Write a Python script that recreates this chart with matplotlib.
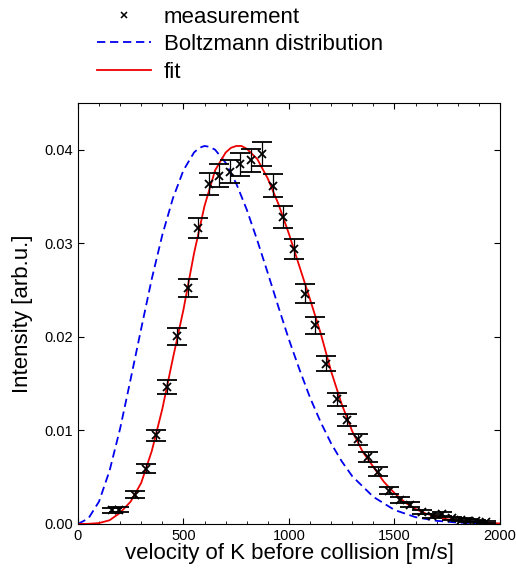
import numpy as np
import matplotlib
matplotlib.use("Agg")
import matplotlib.pyplot as plt
from matplotlib.lines import Line2D
from matplotlib.legend_handler import HandlerLine2D
from matplotlib.ticker import MultipleLocator, FormatStrFormatter

plt.rcParams['font.family'] = ['Liberation Sans', 'DejaVu Sans']

# measured points (velocity, intensity, error)
v_meas = [162, 197, 269, 321, 369, 421, 471, 522, 571, 619, 670, 721, 770, 821,
          873, 924, 972, 1022, 1075, 1125, 1174, 1226, 1275, 1325, 1375, 1424,
          1476, 1527, 1575, 1629, 1678, 1726, 1773, 1813, 1850, 1888, 1932]
i_meas = [0.00145, 0.00153, 0.00313, 0.00588, 0.00947, 0.01464, 0.02004, 0.02521,
          0.03162, 0.03632, 0.03724, 0.03767, 0.03846, 0.03885, 0.03955, 0.03617,
          0.03281, 0.02938, 0.02460, 0.02124, 0.01713, 0.01332, 0.01112, 0.00906,
          0.00717, 0.00557, 0.00357, 0.00260, 0.00206, 0.00127, 0.00084, 0.00104,
          0.00064, 0.00048, 0.00037, 0.00029, 0.00020]
i_err = [0.00025, 0.00025, 0.0004, 0.00048, 0.0006, 0.00072, 0.00087, 0.001,
         0.0011, 0.0012, 0.0012, 0.0012, 0.00124, 0.00124, 0.00125, 0.0012,
         0.00114, 0.00108, 0.001, 0.00092, 0.00082, 0.00073, 0.00066, 0.0006,
         0.00053, 0.00047, 0.00038, 0.00032, 0.00029, 0.00022, 0.00018, 0.0002,
         0.00016, 0.00014, 0.00012, 0.00011, 0.00009]

# Boltzmann distribution curve
v_boltz = [0, 50, 100, 150, 200, 250, 300, 350, 400, 450, 500, 550, 575, 600, 625,
           650, 700, 750, 800, 850, 900, 950, 1000, 1050, 1100, 1150, 1200, 1250,
           1300, 1400, 1500, 1600, 1700, 1800, 1900, 2000]
i_boltz = [0.0, 0.0006, 0.0024, 0.0057, 0.0102, 0.0155, 0.0209, 0.0262, 0.0309,
           0.0348, 0.0378, 0.0397, 0.0402, 0.0404, 0.0403, 0.0400, 0.0386, 0.0364,
           0.0336, 0.0303, 0.0268, 0.0232, 0.0197, 0.0165, 0.0135, 0.0109, 0.0086,
           0.0067, 0.0051, 0.0029, 0.0015, 0.00073, 0.00034, 0.00015, 0.00006,
           0.00002]

# fit curve
v_fit = [0, 50, 100, 150, 200, 250, 300, 350, 400, 450, 500, 550, 600, 650, 700,
         725, 750, 775, 800, 850, 900, 950, 1000, 1050, 1100, 1150, 1200, 1250,
         1300, 1350, 1400, 1450, 1500, 1550, 1600, 1650, 1700, 1750, 1800, 1850,
         1900, 1950, 2000]
i_fit = [0.0, 0.00002, 0.0001, 0.0004, 0.0012, 0.0024, 0.0044, 0.0078, 0.0123,
         0.0177, 0.0229, 0.0289, 0.0340, 0.0378, 0.0397, 0.0402, 0.0404, 0.0404,
         0.0401, 0.0390, 0.0369, 0.0342, 0.0310, 0.0275, 0.0240, 0.0204, 0.0163,
         0.0128, 0.0099, 0.0077, 0.0061, 0.0045, 0.0033, 0.0023, 0.0016, 0.0011,
         0.0008, 0.0005, 0.0004, 0.00027, 0.00018, 0.0001, 0.00006]

dash = (0, (4.6, 2.6))


class RightMarker(HandlerLine2D):
    def get_xdata(self, legend, xdescent, ydescent, width, height, fontsize):
        xd = np.array([-xdescent, -xdescent + width])
        return xd, np.array([-xdescent + width * 0.93])


fig = plt.figure(figsize=(5.16, 5.75), dpi=100)
ax = fig.add_axes([0.151, 0.0887, 0.818, 0.7323])

ax.plot(v_boltz, i_boltz, color='#0000ee', lw=1.3, linestyle=dash)
ax.plot(v_fit, i_fit, color='#ee0000', lw=1.3)
ax.errorbar(v_meas, i_meas, yerr=i_err, fmt='x', color='black', ms=6, mew=1.3,
            ecolor='black', elinewidth=0.9, capsize=7, capthick=0.9)

ax.set_xlim(0, 2000)
ax.set_ylim(0, 0.045)
ax.xaxis.set_major_locator(MultipleLocator(500))
ax.xaxis.set_minor_locator(MultipleLocator(100))
ax.yaxis.set_major_locator(MultipleLocator(0.01))
ax.yaxis.set_major_formatter(FormatStrFormatter('%.2f'))
ax.tick_params(which='both', direction='in', top=True, right=True, labelsize=10.5)
ax.tick_params(which='major', length=4)
ax.tick_params(which='minor', length=2.5)
ax.set_xlabel('velocity of K before collision [m/s]', fontsize=16, labelpad=0)
ax.set_ylabel('Intensity [arb.u.]', fontsize=16, labelpad=8)

h_meas = Line2D([], [], color='black', marker='x', ms=5, mew=1.1, linestyle='none')
h_boltz = Line2D([], [], color='#0000ee', lw=1.3, linestyle=dash)
h_fit = Line2D([], [], color='#ee0000', lw=1.3)
fig.legend([h_meas, h_boltz, h_fit], ['measurement', 'Boltzmann distribution', 'fit'],
           loc='upper left', bbox_to_anchor=(0.167, 1.008), frameon=False, fontsize=16,
           handlelength=2.4, handletextpad=0.6, labelspacing=0.3, borderpad=0.0,
           handler_map={h_meas: RightMarker()})

fig.savefig('out.png', dpi=100)
